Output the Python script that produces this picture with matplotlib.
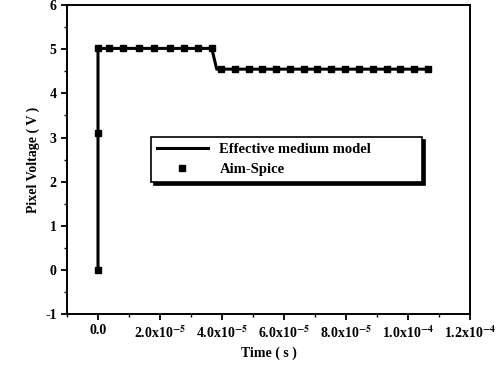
#!/usr/bin/env python3

import matplotlib
matplotlib.use('Agg')
import matplotlib.pyplot as plt
from matplotlib.ticker import MultipleLocator, FixedLocator

plt.rcParams['font.family'] = ['Liberation Serif', 'DejaVu Serif']
plt.rcParams['font.weight'] = 'bold'
plt.rcParams['mathtext.fontset'] = 'stix'
plt.rcParams['axes.unicode_minus'] = False

# effective medium model (line)
t_line = [0.0, 0.0, 3.67e-5, 3.83e-5, 1.064e-4]
v_line = [0.0, 5.02, 5.02, 4.55, 4.55]

# Aim-Spice points
t_pts = [0.0, 0.0, 0.0, 0.36e-5, 0.81e-5, 1.32e-5, 1.81e-5, 2.32e-5, 2.77e-5, 3.22e-5, 3.67e-5,
         3.97e-5, 4.41e-5, 4.86e-5, 5.30e-5, 5.75e-5, 6.19e-5, 6.64e-5, 7.08e-5,
         7.53e-5, 7.97e-5, 8.42e-5, 8.86e-5, 9.31e-5, 9.75e-5, 1.020e-4, 1.064e-4]
v_pts = [0.0, 3.1, 5.02, 5.02, 5.02, 5.02, 5.02, 5.02, 5.02, 5.02, 5.02,
         4.55, 4.55, 4.55, 4.55, 4.55, 4.55, 4.55, 4.55,
         4.55, 4.55, 4.55, 4.55, 4.55, 4.55, 4.55, 4.55]

xticks = [0.0, 2e-5, 4e-5, 6e-5, 8e-5, 1e-4, 1.2e-4]
xlabels = ['0.0', r'2.0x10$^{-5}$', r'4.0x10$^{-5}$', r'6.0x10$^{-5}$',
           r'8.0x10$^{-5}$', r'1.0x10$^{-4}$', r'1.2x10$^{-4}$']

fig = plt.figure(figsize=(5, 3.69), dpi=100)
ax = fig.add_axes([0.134, 0.149, 0.806, 0.837])

ax.plot(t_line, v_line, '-', color='black', lw=2.2, label='Effective medium model')
ax.plot(t_pts, v_pts, 's', color='black', ms=4, label='Aim-Spice')

ax.set_xlim(-1e-5, 1.2e-4)
ax.set_ylim(-1, 6)
ax.xaxis.set_major_locator(FixedLocator(xticks))
ax.set_xticklabels(xlabels)
ax.xaxis.set_minor_locator(MultipleLocator(1e-5))
ax.yaxis.set_major_locator(MultipleLocator(1))
ax.yaxis.set_minor_locator(MultipleLocator(0.5))
ax.tick_params(which='major', direction='out', length=4, width=1.3, labelsize=10)
ax.tick_params(which='minor', direction='out', length=2.5, width=1)
for s in ax.spines.values():
    s.set_linewidth(1.4)

ax.set_xlabel('Time ( s )', fontsize=10, fontweight='bold')
ax.set_ylabel('Pixel Voltage ( V )', fontsize=10, fontweight='bold')

leg = ax.legend(loc='center', bbox_to_anchor=(0.19, 0.41, 0.71, 0.18), mode='expand',
                frameon=True, fancybox=False, shadow={'color': 'black', 'alpha': 1},
                prop={'weight': 'bold', 'size': 10.5}, handlelength=3.5, borderpad=0.4,
                markerscale=1.0)
leg.get_frame().set_edgecolor('black')
leg.get_frame().set_linewidth(1.2)

fig.savefig('out.png', dpi=100)
